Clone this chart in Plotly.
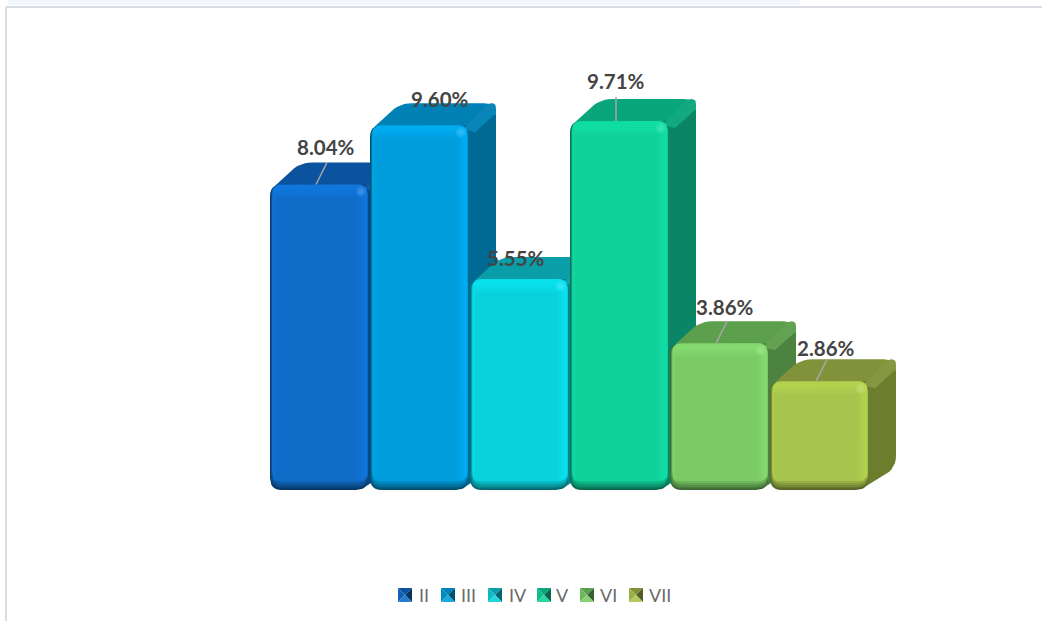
import plotly.graph_objects as go

categories = ["II", "III", "IV", "V", "VI", "VII"]
values = [8.04, 9.60, 5.55, 9.71, 3.86, 2.86]
front_colors = ["#0F6CC8", "#009DDC", "#0AD2DC", "#10D19B", "#7ACB65", "#A7C44D"]
edge_colors = ["#1075DC", "#00ABF0", "#08E0EE", "#10DDA4", "#84D96E", "#B2D24E"]
top_colors = ["#0B529F", "#0081B5", "#0A9EA8", "#09A67C", "#5C9F4C", "#82923A"]
side_colors = ["#0A4682", "#006A94", "#088390", "#0A8666", "#4C8341", "#6C7E2E"]
# per-bar label nudges, in pixels, from the front-top-centre of the bar
label_dx = [6, 20, -4, -4, 5, 6]
label_dy = [37, 26, 21, 40, 36, 33]
leader_on = [True, False, False, True, True, True]

W, H = 1042, 621
PX_X = 100.0      # pixels per category
PX_Y = 38.0       # pixels per percentage point
X0_PX, Y0_PX = 320, 490
DX, DY = 28, 22   # depth of the 3D effect in pixels

x_range = [(0 - X0_PX) / PX_X, (W - X0_PX) / PX_X]
y_range = [(Y0_PX - H) / PX_Y, Y0_PX / PX_Y]


def mix(c, other, t):
    a = [int(c[i:i + 2], 16) for i in (1, 3, 5)]
    b = [int(other[i:i + 2], 16) for i in (1, 3, 5)]
    return "#%02x%02x%02x" % tuple(round(p + (q - p) * t) for p, q in zip(a, b))


def rounded(pts, radii):
    """Rounded polygon. pts are (x, y) offsets in px (y up)."""
    out = []
    n = len(pts)
    for i, p in enumerate(pts):
        r = radii[i] if isinstance(radii, (list, tuple)) else radii
        a, b = pts[i - 1], pts[(i + 1) % n]
        if r <= 0:
            out.append(p)
            continue
        def toward(q):
            d = ((q[0] - p[0]) ** 2 + (q[1] - p[1]) ** 2) ** 0.5
            k = min(r, d / 2) / d
            return (p[0] + (q[0] - p[0]) * k, p[1] + (q[1] - p[1]) * k)
        s, e = toward(a), toward(b)
        for j in range(7):
            t = j / 6
            out.append(((1 - t) ** 2 * s[0] + 2 * t * (1 - t) * p[0] + t ** 2 * e[0],
                        (1 - t) ** 2 * s[1] + 2 * t * (1 - t) * p[1] + t ** 2 * e[1]))
    return out


fig = go.Figure()


def poly(idx, pts, color, r=0):
    """pts are px offsets from (category idx, baseline); y measured upward."""
    pp = rounded(pts, r) if r else pts
    xs = [idx + p[0] / PX_X for p in pp] + [idx + pp[0][0] / PX_X]
    ys = [p[1] / PX_Y for p in pp] + [pp[0][1] / PX_Y]
    fig.add_trace(go.Scatter(x=xs, y=ys, mode="lines", fill="toself", fillcolor=color,
                             line=dict(width=0, color=color), hoverinfo="skip", showlegend=False))


for i, (v, fc, ec, tc, sc) in enumerate(zip(values, front_colors, edge_colors, top_colors, side_colors)):
    t = v * PX_Y
    l, rr = -50, 48
    # side face
    poly(i, [(rr - 8, 0), (rr + DX, DY), (rr + DX, t + DY), (rr - 8, t)], sc, [6, 12, 12, 0])
    # top face
    poly(i, [(l + 2, t - 4), (l + DX + 2, t + DY), (rr + DX, t + DY), (rr, t)], tc, [6, 12, 12, 0])
    # lighter ridge between top and side
    poly(i, [(rr - 5, t - 4), (rr + DX - 9, t + DY), (rr + DX, t + DY), (rr + DX, t + DY - 10), (rr + 7, t - 7)],
         mix(tc, "#ffffff", 0.035), [0, 6, 12, 0, 0])
    # front: rim layers
    def rect(a, b, c, d, col, r):
        poly(i, [(l + a, b), (rr - c, b), (rr - c, t - d), (l + a, t - d)], col, r)
    rect(0, 0, 0, 0, mix(fc, "#000000", 0.5), 12)
    rect(0.5, 1.5, 0, 0, mix(fc, "#000000", 0.4), 12)
    rect(1, 3, 0, 0, mix(fc, "#000000", 0.3), 11)
    rect(1.5, 5, 0, 0, mix(fc, "#000000", 0.2), 11)
    rect(2, 7, 0, 0, mix(fc, "#000000", 0.1), 10)
    rect(2.5, 9, 0.5, 0, ec, 9)
    rect(3, 9, 4, 6, mix(ec, fc, 0.35), 6)
    rect(4, 9, 7, 10, mix(ec, fc, 0.7), 4)
    rect(5, 9, 10, 13, fc, 3)
    # specular highlight at the top right corner
    hx, hy = rr - 7, t - 7
    poly(i, [(hx - 7, hy), (hx, hy + 7), (hx + 7, hy), (hx, hy - 7)], mix(ec, "#ffffff", 0.08), 6)
    poly(i, [(hx - 4, hy), (hx, hy + 4), (hx + 4, hy), (hx, hy - 4)], mix(ec, "#ffffff", 0.16), 3)

    # leader line
    if leader_on[i]:
        if i == 3:
            lx = [i - 4 / PX_X, i - 4 / PX_X]
            ly = [v, v + 24 / PX_Y]
        else:
            lx = [i - 4 / PX_X, i + 7 / PX_X]
            ly = [v, v + 22 / PX_Y]
        fig.add_trace(go.Scatter(x=lx, y=ly, mode="lines", line=dict(color="#a6a6a6", width=1.5),
                                 hoverinfo="skip", showlegend=False))

# value labels
for i, v in enumerate(values):
    fig.add_annotation(x=i + label_dx[i] / PX_X, y=v + label_dy[i] / PX_Y, xref="x", yref="y",
                       text=f"{v:.2f}%", showarrow=False, xanchor="center", yanchor="middle",
                       font=dict(family="Lato", size=20.5, color="#444444", weight="bold"))

# legend drawn to match the pyramid swatches
swatch_left = [398, 441, 488, 537, 580, 629]
text_left = [418, 460, 508, 555, 599, 648]
SW, SY0, SY1 = 14, 588, 602


def fx(p):
    return p / W


def fy(p):
    return 1 - p / H


shapes = []
for i, name in enumerate(categories):
    a = swatch_left[i]
    b = a + SW
    m = a + SW / 2
    c = (SY0 + SY1) / 2
    fc, tc, sc = front_colors[i], top_colors[i], side_colors[i]
    tris = [
        ([(a, SY0), (b, SY0), (m, c)], tc),
        ([(a, SY0), (m, c), (a, SY1)], mix(fc, "#000000", 0.1)),
        ([(b, SY0), (b, SY1), (m, c)], mix(sc, "#000000", 0.25)),
        ([(a, SY1), (b, SY1), (m, c)], mix(fc, "#ffffff", 0.1)),
    ]
    for pts, col in tris:
        path = "M " + " L ".join(f"{fx(x):.5f},{fy(y):.5f}" for x, y in pts) + " Z"
        shapes.append(dict(type="path", xref="paper", yref="paper", path=path, fillcolor=col, line=dict(width=0)))
    fig.add_annotation(x=fx(text_left[i]), y=fy(c), xref="paper", yref="paper", text=name, showarrow=False,
                       xanchor="left", yanchor="middle", font=dict(family="Lato", size=18, color="#6a6a6a"),
                       borderpad=0)

# frame
FRAME = "#d9dde3"
shapes.append(dict(type="line", xref="paper", yref="paper", x0=fx(6), x1=fx(6), y0=fy(7), y1=fy(H), line=dict(color=FRAME, width=2)))
shapes.append(dict(type="line", xref="paper", yref="paper", x0=fx(6), x1=fx(W), y0=fy(7), y1=fy(7), line=dict(color=FRAME, width=2)))
# faint remnant of the cropped heading above the frame
shapes.append(dict(type="rect", xref="paper", yref="paper", x0=fx(8), x1=fx(800), y0=fy(5), y1=fy(0),
                   fillcolor="#f0f6fb", line=dict(width=0)))

fig.update_layout(
    width=W, height=H, margin=dict(l=0, r=0, t=0, b=0, autoexpand=False),
    paper_bgcolor="#ffffff", plot_bgcolor="#ffffff", showlegend=False, shapes=shapes,
    xaxis=dict(range=x_range, visible=False, fixedrange=True),
    yaxis=dict(range=y_range, visible=False, fixedrange=True),
)
fig.write_html("out.html", config={"displayModeBar": False},
               post_script="document.body.style.margin='0';document.documentElement.style.overflow='hidden';")
